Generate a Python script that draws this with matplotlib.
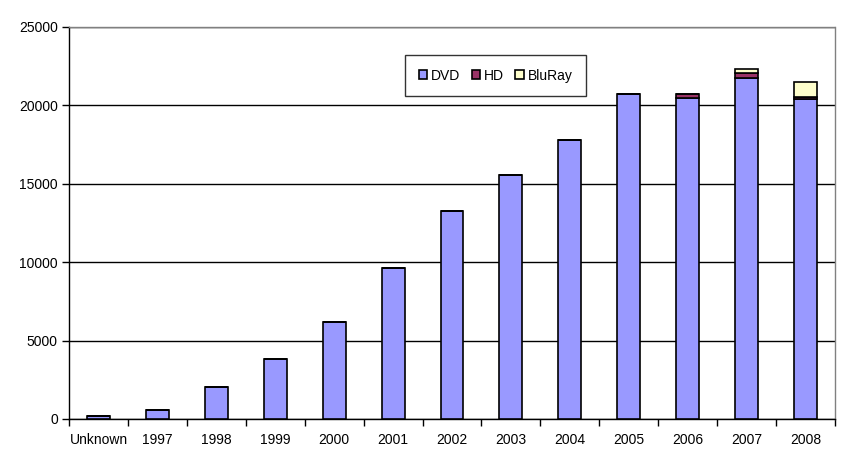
import matplotlib.pyplot as plt
import numpy as np

plt.rcParams['font.family'] = ['Liberation Sans', 'DejaVu Sans']

categories = ['Unknown', '1997', '1998', '1999', '2000', '2001', '2002',
              '2003', '2004', '2005', '2006', '2007', '2008']
dvd = [190, 580, 2040, 3810, 6170, 9620, 13270, 15550, 17790, 20720, 20490, 21730, 20410]
hd = [0, 0, 0, 0, 0, 0, 0, 0, 0, 0, 250, 320, 140]
bluray = [0, 0, 0, 0, 0, 0, 0, 0, 0, 0, 0, 270, 920]

fig = plt.figure(figsize=(8.67, 4.68), dpi=100)
ax = fig.add_axes([69/867, 49/468, 766/867, 392/468])

x = np.arange(len(categories))
w = 0.39
dvd = np.array(dvd)
hd = np.array(hd)
bluray = np.array(bluray)

ax.bar(x, dvd, w, color='#9999FF', edgecolor='black', linewidth=1.2, label='DVD', zorder=3)
ax.bar(x, hd, w, bottom=dvd, color='#993366', edgecolor='black', linewidth=1.2, label='HD', zorder=3)
ax.bar(x, bluray, w, bottom=dvd + hd, color='#FFFFCC', edgecolor='black', linewidth=1.2, label='BluRay', zorder=3)

ax.set_xlim(-0.5, len(categories) - 0.5)
ax.set_ylim(0, 25000)
ax.set_yticks(range(0, 25001, 5000))
ax.yaxis.grid(True, color='black', linewidth=1)
ax.set_axisbelow(True)

ax.set_xticks(x)
ax.set_xticklabels(categories)
ax.set_xticks(np.arange(-0.5, len(categories)), minor=True)
ax.tick_params(axis='x', which='major', length=0, pad=10, labelsize=10)
ax.tick_params(axis='x', which='minor', length=5, width=1, direction='out')
ax.tick_params(axis='y', length=5, width=1, labelsize=10, pad=3)

for s in ['top', 'right']:
    ax.spines[s].set_color('#808080')
    ax.spines[s].set_linestyle((0, (1, 1)))
    ax.spines[s].set_linewidth(1)
for s in ['left', 'bottom']:
    ax.spines[s].set_color('black')
    ax.spines[s].set_linewidth(1)

leg = ax.legend(loc='center', bbox_to_anchor=(0.557, 0.876), ncol=3, frameon=True,
                fancybox=False, edgecolor='black', fontsize=10, borderpad=1.0,
                handlelength=0.6, handleheight=0.6, handletextpad=0.3,
                columnspacing=0.8, borderaxespad=0)
leg.get_frame().set_linewidth(1)

fig.savefig('out.png', dpi=100)
